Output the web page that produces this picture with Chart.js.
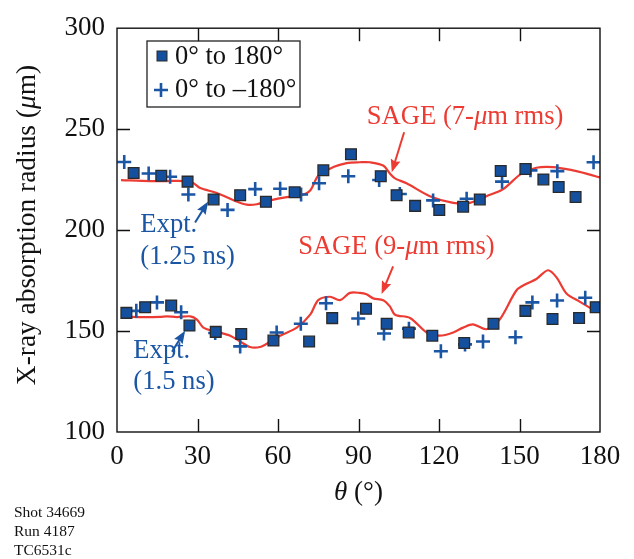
<!DOCTYPE html>
<html>
<head>
<meta charset="utf-8">
<script src="https://cdn.jsdelivr.net/npm/chart.js@4/dist/chart.umd.min.js"></script>
<style>
html,body{margin:0;padding:0;background:#fff;}
#wrap{width:634px;height:559px;position:relative;}
</style>
</head>
<body>
<div id="wrap"><canvas id="c" width="634" height="559"></canvas></div>
<script>
// ---- data (theta in degrees, radius in µm) ----
const xTicks = [0, 30, 60, 90, 120, 150, 180];
const yTicks = [100, 150, 200, 250, 300];

// Expt. 1.25 ns, 0° to 180° (squares)
const sqUpperTheta  = [6.2, 16.5, 26.3, 36.0, 45.9, 55.5, 66.2, 76.9, 87.2, 98.3, 104.2, 111.1, 120.1, 129.0, 135.2, 143.0, 152.2, 158.9, 164.6, 170.9];
const sqUpperRadius = [228.3, 226.9, 224.0, 215.2, 217.3, 214.0, 218.7, 229.6, 237.6, 226.7, 217.3, 212.0, 210.0, 211.6, 215.2, 229.3, 230.3, 225.1, 221.3, 216.4];
// Expt. 1.25 ns, 0° to -180° (plus)
const plUpperTheta  = [2.7, 11.8, 19.8, 26.6, 41.2, 51.5, 60.8, 68.6, 75.3, 86.2, 97.7, 105.4, 117.8, 130.3, 143.5, 154.1, 164.1, 177.6];
const plUpperRadius = [233.7, 228.0, 226.4, 217.6, 210.0, 220.3, 220.5, 217.6, 223.2, 226.7, 224.8, 217.9, 214.7, 215.5, 224.0, 229.6, 229.2, 233.6];
// Expt. 1.5 ns, 0° to 180° (squares)
const sqLowerTheta  = [3.5, 10.5, 20.2, 27.0, 36.8, 46.3, 58.3, 71.6, 80.2, 92.8, 100.5, 108.7, 117.5, 129.4, 140.3, 152.2, 162.3, 172.2, 178.4];
const sqLowerRadius = [159.0, 161.8, 162.7, 152.7, 149.6, 148.5, 145.3, 144.8, 156.4, 161.0, 153.6, 149.3, 147.7, 144.1, 153.6, 160.0, 156.0, 156.5, 161.8];
// Expt. 1.5 ns, 0° to -180° (plus)
const plLowerTheta  = [7.2, 14.9, 23.9, 36.6, 45.9, 59.5, 68.5, 77.9, 89.9, 99.5, 108.8, 120.7, 129.7, 136.4, 148.5, 154.8, 164.0, 174.5];
const plLowerRadius = [160.0, 164.2, 159.3, 149.0, 142.4, 149.3, 153.6, 163.8, 156.2, 148.8, 151.2, 140.0, 143.4, 144.8, 146.9, 164.2, 165.1, 166.5];
// SAGE (7-µm rms)
const sage7Theta  = [1.5, 12.4, 18.6, 24.8, 28.5, 31.0, 37.2, 43.4, 48.4, 52.1, 57.1, 63.3, 68.2, 71.9, 75.0, 80.6, 85.6, 90.5, 94.3, 99.2, 101.7, 103.6, 107.9, 116.6, 125.3, 131.5, 137.7, 143.9, 150.7, 156.3, 162.5, 169.9, 174.9, 179.9];
const sage7Radius = [224.8, 224.3, 224.3, 224.3, 223.2, 220.8, 218.4, 214.8, 212.6, 212.8, 214.7, 216.3, 217.1, 219.5, 226.9, 231.2, 233.2, 233.6, 233.6, 232.0, 228.0, 225.6, 223.2, 216.8, 213.5, 213.5, 216.8, 220.3, 228.0, 230.9, 231.2, 229.6, 228.0, 226.1];
// SAGE (9-µm rms)
const sage9Theta  = [1.5, 8.7, 16.1, 18.6, 22.3, 27.3, 29.8, 32.2, 37.2, 42.2, 45.9, 49.6, 53.3, 55.8, 60.8, 67.0, 72.0, 75.0, 79.4, 83.1, 86.8, 90.5, 93.0, 95.5, 99.2, 101.7, 103.6, 109.2, 115.4, 120.3, 125.3, 129.0, 132.7, 137.7, 142.6, 148.9, 152.6, 156.3, 160.6, 163.8, 167.5, 172.4, 177.4];
const sage9Radius = [157.3, 156.9, 157.0, 157.3, 156.9, 157.3, 155.7, 151.7, 149.6, 147.7, 144.8, 142.1, 142.1, 143.7, 147.7, 151.7, 158.1, 165.3, 167.0, 165.3, 168.9, 168.9, 168.2, 166.2, 165.3, 162.2, 158.1, 156.5, 149.3, 147.7, 149.3, 151.7, 153.3, 150.9, 155.7, 170.2, 173.4, 175.8, 180.1, 176.6, 168.6, 164.6, 160.6];

const legendLabels = ['0° to 180°', '0° to \u2013180°'];

const BLUE = '#1a56a4';
const SQFILL = '#14509e';
const RED = '#ec3b32';
const SERIF = '"Liberation Serif", "DejaVu Serif", serif';

function pts(xs, ys){ return xs.map((x,i)=>({x:x, y:ys[i]})); }

const sqStyle = {type:'scatter', pointStyle:'rect', pointRadius:7.6, pointBackgroundColor:SQFILL, pointBorderColor:'#2a2a2a', pointBorderWidth:1.3, showLine:false, order:1};
const plStyle = {type:'scatter', pointStyle:'cross', pointRadius:7, pointBorderColor:BLUE, pointBorderWidth:2.6, showLine:false, order:2};
const lnStyle = {type:'line', borderColor:RED, borderWidth:2.2, pointRadius:0, tension:0.3, fill:false, order:3};

// segments of mixed-font text
function drawSegs(ctx, segs, x, y, align){
  let total = 0;
  segs.forEach(s=>{ ctx.font = s.f; total += ctx.measureText(s.t).width; });
  let cx = align === 'center' ? x - total/2 : x;
  ctx.textAlign = 'left';
  segs.forEach(s=>{ ctx.font = s.f; ctx.fillText(s.t, cx, y); cx += ctx.measureText(s.t).width; });
}
function arrow(ctx, x1, y1, x2, y2, color){
  const ang = Math.atan2(y2-y1, x2-x1);
  const hl = 13, hw = 5;
  const bx = x2 - hl*Math.cos(ang), by = y2 - hl*Math.sin(ang);
  ctx.strokeStyle = color; ctx.lineWidth = 2;
  ctx.beginPath(); ctx.moveTo(x1,y1); ctx.lineTo(bx + 3*Math.cos(ang), by + 3*Math.sin(ang)); ctx.stroke();
  ctx.fillStyle = color;
  ctx.beginPath();
  ctx.moveTo(x2,y2);
  ctx.lineTo(bx - hw*Math.sin(ang), by + hw*Math.cos(ang));
  ctx.lineTo(bx + 2*Math.cos(ang), by + 2*Math.sin(ang));
  ctx.lineTo(bx + hw*Math.sin(ang), by - hw*Math.cos(ang));
  ctx.closePath(); ctx.fill();
}

// annotations in data units
const notes = {
  sage7: {x:93.1, y:256.0, ax1:107.0, ay1:248.5, ax2:102.4, ay2:228.6},
  sage9: {x:67.5, y:191.7, ax1:102.9, ay1:182.0, ax2:98.6, ay2:168.3},
  e125:  {x:8.7, y1:202.3, y2:186.9, ax1:29.1, ay1:203.8, ax2:34.0, ay2:214.2},
  e15:   {x:6.1, y1:140.1, y2:124.7, ax1:20.5, ay1:139.7, ax2:25.4, ay2:150.2}
};

const decor = {
  id:'decor',
  afterDatasetsDraw(chart){
    const ctx = chart.ctx, a = chart.chartArea, xs = chart.scales.x, ys = chart.scales.y;
    ctx.save();
    // frame
    ctx.strokeStyle = '#111'; ctx.lineWidth = 1.4;
    ctx.strokeRect(a.left, a.top, a.right-a.left, a.bottom-a.top);
    // inward ticks
    const tl = 13;
    ctx.beginPath();
    xTicks.slice(1,-1).forEach(v=>{
      const px = Math.round(xs.getPixelForValue(v))+0.5;
      ctx.moveTo(px, a.bottom); ctx.lineTo(px, a.bottom - tl);
      ctx.moveTo(px, a.top); ctx.lineTo(px, a.top + tl);
    });
    yTicks.slice(1,-1).forEach(v=>{
      const py = Math.round(ys.getPixelForValue(v))+0.5;
      ctx.moveTo(a.left, py); ctx.lineTo(a.left + tl, py);
      ctx.moveTo(a.right, py); ctx.lineTo(a.right - tl, py);
    });
    ctx.stroke();

    // legend
    const lx = 147, ly = 41, lw = 153, lh = 66;
    ctx.lineWidth = 1.3; ctx.strokeStyle = '#222';
    ctx.strokeRect(lx, ly, lw, lh);
    ctx.fillStyle = SQFILL; ctx.strokeStyle = '#2a2a2a'; ctx.lineWidth = 1;
    ctx.fillRect(157, 51, 10, 10); ctx.strokeRect(157, 51, 10, 10);
    ctx.strokeStyle = BLUE; ctx.lineWidth = 2.6;
    ctx.beginPath(); ctx.moveTo(154, 90); ctx.lineTo(168, 90); ctx.moveTo(161, 83); ctx.lineTo(161, 97); ctx.stroke();
    ctx.fillStyle = '#111'; ctx.font = '26.5px ' + SERIF; ctx.textBaseline = 'middle'; ctx.textAlign = 'left';
    ctx.fillText(legendLabels[0], 175, 57);
    ctx.fillText(legendLabels[1], 175, 90);

    // annotations
    const X = v=>xs.getPixelForValue(v), Y = v=>ys.getPixelForValue(v);
    const reg = '26.6px ' + SERIF, ita = 'italic 26.6px ' + SERIF;
    ctx.fillStyle = RED; ctx.textBaseline = 'middle';
    drawSegs(ctx, [{t:'SAGE (7-', f:reg},{t:'\u03bc', f:ita},{t:'m rms)', f:reg}], X(notes.sage7.x), Y(notes.sage7.y), 'left');
    drawSegs(ctx, [{t:'SAGE (9-', f:reg},{t:'\u03bc', f:ita},{t:'m rms)', f:reg}], X(notes.sage9.x), Y(notes.sage9.y), 'left');
    arrow(ctx, X(notes.sage7.ax1), Y(notes.sage7.ay1), X(notes.sage7.ax2), Y(notes.sage7.ay2), RED);
    arrow(ctx, X(notes.sage9.ax1), Y(notes.sage9.ay1), X(notes.sage9.ax2), Y(notes.sage9.ay2), RED);
    ctx.fillStyle = BLUE; ctx.font = reg; ctx.textAlign = 'left';
    ctx.fillText('Expt.', X(notes.e125.x), Y(notes.e125.y1));
    ctx.fillText('(1.25 ns)', X(notes.e125.x), Y(notes.e125.y2));
    ctx.fillText('Expt.', X(notes.e15.x), Y(notes.e15.y1));
    ctx.fillText('(1.5 ns)', X(notes.e15.x), Y(notes.e15.y2));
    arrow(ctx, X(notes.e125.ax1), Y(notes.e125.ay1), X(notes.e125.ax2), Y(notes.e125.ay2), BLUE);
    arrow(ctx, X(notes.e15.ax1), Y(notes.e15.ay1), X(notes.e15.ax2), Y(notes.e15.ay2), BLUE);

    // axis titles
    ctx.fillStyle = '#111';
    ctx.textBaseline = 'middle';
    drawSegs(ctx, [{t:'\u03b8', f:'italic 27px ' + SERIF},{t:' (°)', f:'27px ' + SERIF}], (a.left+a.right)/2, 493, 'center');
    ctx.save();
    ctx.translate(28, 225); ctx.rotate(-Math.PI/2);
    drawSegs(ctx, [{t:'X-ray absorption radius (', f:'27.4px ' + SERIF},{t:'\u03bc', f:'italic 27.4px ' + SERIF},{t:'m)', f:'27.4px ' + SERIF}], 0, 0, 'center');
    ctx.restore();

    // footnote
    ctx.font = '15.5px ' + SERIF; ctx.textAlign = 'left'; ctx.textBaseline = 'alphabetic';
    ctx.fillText('Shot 34669', 14, 517);
    ctx.fillText('Run 4187', 14, 536);
    ctx.fillText('TC6531c', 14, 555);
    ctx.restore();
  }
};

new Chart(document.getElementById('c'), {
  data: {
    datasets: [
      Object.assign({label:'sq-upper', data:pts(sqUpperTheta, sqUpperRadius)}, sqStyle),
      Object.assign({label:'sq-lower', data:pts(sqLowerTheta, sqLowerRadius)}, sqStyle),
      Object.assign({label:'pl-upper', data:pts(plUpperTheta, plUpperRadius)}, plStyle),
      Object.assign({label:'pl-lower', data:pts(plLowerTheta, plLowerRadius)}, plStyle),
      Object.assign({label:'SAGE 7', data:pts(sage7Theta, sage7Radius)}, lnStyle),
      Object.assign({label:'SAGE 9', data:pts(sage9Theta, sage9Radius)}, lnStyle)
    ]
  },
  options: {
    responsive:false, animation:false, devicePixelRatio:1,
    layout:{padding:{left:0, top:17, right:34, bottom:0}},
    plugins:{legend:{display:false}, tooltip:{enabled:false}},
    scales:{
      x:{type:'linear', min:0, max:180,
         afterBuildTicks(s){ s.ticks = xTicks.map(v=>({value:v})); },
         afterFit(s){ s.height = 127; },
         grid:{display:false, drawTicks:false}, border:{display:false},
         ticks:{padding:9, color:'#111', font:{family:SERIF, size:27}}},
      y:{type:'linear', min:100, max:300,
         afterBuildTicks(s){ s.ticks = yTicks.map(v=>({value:v})); },
         afterFit(s){ s.width = 117; },
         grid:{display:false, drawTicks:false}, border:{display:false},
         ticks:{padding:12, color:'#111', font:{family:SERIF, size:27}}}
    }
  },
  plugins:[decor]
});
</script>
</body>
</html>
